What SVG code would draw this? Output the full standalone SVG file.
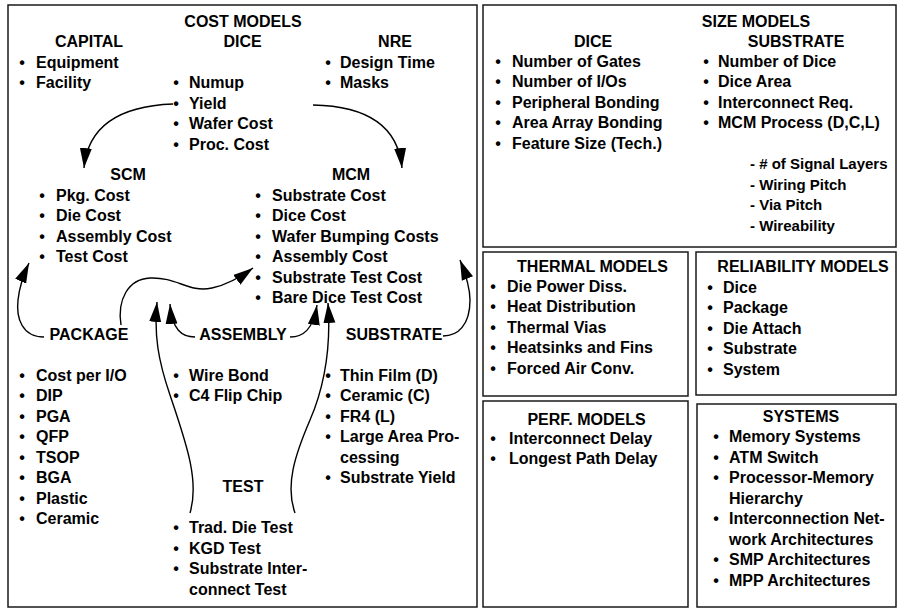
<svg xmlns="http://www.w3.org/2000/svg" width="899" height="610" viewBox="0 0 899 610">
  <style>
    text { font-family: "Liberation Sans", Arial, sans-serif; font-weight: bold; font-size: 16px; fill: #000; }
    .h { text-anchor: middle; }
    .b { text-anchor: middle; }
    .sub { font-size: 15px; }
    .box { fill: none; stroke: #1a1a1a; stroke-width: 1.5; }
    .conn { fill: none; stroke: #000; stroke-width: 1.4; marker-end: url(#ah); }
  </style>
  <defs>
    <marker id="ah" markerUnits="userSpaceOnUse" markerWidth="21" markerHeight="13" viewBox="0 0 21 13" refX="20" refY="6.5" orient="auto">
      <path d="M0,0.5 L20,6.5 L0,12.5 Z" fill="#000"/>
    </marker>
  </defs>
  <rect width="899" height="610" fill="#fff"/>

  <!-- Cost models panel -->
  <g id="cost-models">
    <rect class="box" x="8" y="5" width="469" height="602"/>
    <text class="h" x="243" y="26.7">COST MODELS</text>
  </g>
  <g id="capital">
    <text class="h" x="89" y="47.3">CAPITAL</text>
    <text class="b" x="22" y="67.7">•</text><text x="36" y="67.7">Equipment</text>
    <text class="b" x="22" y="88.2">•</text><text x="36" y="88.2">Facility</text>
  </g>
  <g id="dice">
    <text class="h" x="242.5" y="47.3">DICE</text>
    <text class="b" x="176" y="88.2">•</text><text x="189" y="88.2">Numup</text>
    <text class="b" x="176" y="108.7">•</text><text x="189" y="108.7">Yield</text>
    <text class="b" x="176" y="129.2">•</text><text x="189" y="129.2">Wafer Cost</text>
    <text class="b" x="176" y="149.7">•</text><text x="189" y="149.7">Proc. Cost</text>
  </g>
  <g id="nre">
    <text class="h" x="395" y="47.3">NRE</text>
    <text class="b" x="328" y="67.7">•</text><text x="340" y="67.7">Design Time</text>
    <text class="b" x="328" y="88.2">•</text><text x="340" y="88.2">Masks</text>
  </g>
  <g id="scm">
    <text class="h" x="128" y="180">SCM</text>
    <text class="b" x="42" y="200.5">•</text><text x="56" y="200.5">Pkg. Cost</text>
    <text class="b" x="42" y="221">•</text><text x="56" y="221">Die Cost</text>
    <text class="b" x="42" y="241.5">•</text><text x="56" y="241.5">Assembly Cost</text>
    <text class="b" x="42" y="262">•</text><text x="56" y="262">Test Cost</text>
  </g>
  <g id="mcm">
    <text class="h" x="351" y="180">MCM</text>
    <text class="b" x="258" y="200.5">•</text><text x="272" y="200.5">Substrate Cost</text>
    <text class="b" x="258" y="221">•</text><text x="272" y="221">Dice Cost</text>
    <text class="b" x="258" y="241.5">•</text><text x="272" y="241.5">Wafer Bumping Costs</text>
    <text class="b" x="258" y="262">•</text><text x="272" y="262">Assembly Cost</text>
    <text class="b" x="258" y="282.5">•</text><text x="272" y="282.5">Substrate Test Cost</text>
    <text class="b" x="258" y="303">•</text><text x="272" y="303">Bare Dice Test Cost</text>
  </g>
  <g id="package">
    <text class="h" x="89" y="340">PACKAGE</text>
    <text class="b" x="22" y="380.7">•</text><text x="36" y="380.7">Cost per I/O</text>
    <text class="b" x="22" y="401.2">•</text><text x="36" y="401.2">DIP</text>
    <text class="b" x="22" y="421.7">•</text><text x="36" y="421.7">PGA</text>
    <text class="b" x="22" y="442.2">•</text><text x="36" y="442.2">QFP</text>
    <text class="b" x="22" y="462.7">•</text><text x="36" y="462.7">TSOP</text>
    <text class="b" x="22" y="483.2">•</text><text x="36" y="483.2">BGA</text>
    <text class="b" x="22" y="503.7">•</text><text x="36" y="503.7">Plastic</text>
    <text class="b" x="22" y="524.2">•</text><text x="36" y="524.2">Ceramic</text>
  </g>
  <g id="assembly">
    <text class="h" x="243" y="340">ASSEMBLY</text>
    <text class="b" x="176" y="380.7">•</text><text x="189" y="380.7">Wire Bond</text>
    <text class="b" x="176" y="401.2">•</text><text x="189" y="401.2">C4 Flip Chip</text>
  </g>
  <g id="substrate">
    <text class="h" x="394" y="340">SUBSTRATE</text>
    <text class="b" x="328" y="380.7">•</text><text x="340" y="380.7">Thin Film (D)</text>
    <text class="b" x="328" y="401.2">•</text><text x="340" y="401.2">Ceramic (C)</text>
    <text class="b" x="328" y="421.7">•</text><text x="340" y="421.7">FR4 (L)</text>
    <text class="b" x="328" y="442.2">•</text><text x="340" y="442.2">Large Area Pro-</text>
    <text x="340" y="462.7">cessing</text>
    <text class="b" x="328" y="483.2">•</text><text x="340" y="483.2">Substrate Yield</text>
  </g>
  <g id="test">
    <text class="h" x="243" y="492">TEST</text>
    <text class="b" x="176" y="533.3">•</text><text x="189" y="533.3">Trad. Die Test</text>
    <text class="b" x="176" y="553.8">•</text><text x="189" y="553.8">KGD Test</text>
    <text class="b" x="176" y="574.3">•</text><text x="189" y="574.3">Substrate Inter-</text>
    <text x="189" y="594.8">connect Test</text>
  </g>

  <!-- Size models panel -->
  <g id="size-models">
    <rect class="box" x="483" y="5" width="413" height="242"/>
    <text class="h" x="756" y="26.7">SIZE MODELS</text>
    <text class="h" x="593" y="46.7">DICE</text>
    <text class="b" x="498" y="66.7">•</text><text x="512" y="66.7">Number of Gates</text>
    <text class="b" x="498" y="87.2">•</text><text x="512" y="87.2">Number of I/Os</text>
    <text class="b" x="498" y="107.7">•</text><text x="512" y="107.7">Peripheral Bonding</text>
    <text class="b" x="498" y="128.2">•</text><text x="512" y="128.2">Area Array Bonding</text>
    <text class="b" x="498" y="148.7">•</text><text x="512" y="148.7">Feature Size (Tech.)</text>
    <text class="h" x="796" y="46.7">SUBSTRATE</text>
    <text class="b" x="706" y="66.7">•</text><text x="718" y="66.7">Number of Dice</text>
    <text class="b" x="706" y="87.2">•</text><text x="718" y="87.2">Dice Area</text>
    <text class="b" x="706" y="107.7">•</text><text x="718" y="107.7">Interconnect Req.</text>
    <text class="b" x="706" y="128.2">•</text><text x="718" y="128.2">MCM Process (D,C,L)</text>
    <text class="sub" x="750" y="169.2">- # of Signal Layers</text>
    <text class="sub" x="750" y="189.7">- Wiring Pitch</text>
    <text class="sub" x="750" y="210.2">- Via Pitch</text>
    <text class="sub" x="750" y="230.7">- Wireability</text>
  </g>

  <!-- Thermal models panel -->
  <g id="thermal-models">
    <rect class="box" x="483" y="252" width="205" height="144"/>
    <text class="h" x="592.5" y="272.3">THERMAL MODELS</text>
    <text class="b" x="493" y="291.7">•</text><text x="507" y="291.7">Die Power Diss.</text>
    <text class="b" x="493" y="312.2">•</text><text x="507" y="312.2">Heat Distribution</text>
    <text class="b" x="493" y="332.7">•</text><text x="507" y="332.7">Thermal Vias</text>
    <text class="b" x="493" y="353.2">•</text><text x="507" y="353.2">Heatsinks and Fins</text>
    <text class="b" x="493" y="373.7">•</text><text x="507" y="373.7">Forced Air Conv.</text>
  </g>

  <!-- Reliability models panel -->
  <g id="reliability-models">
    <rect class="box" x="696" y="252" width="200" height="143"/>
    <text class="h" x="803" y="272">RELIABILITY MODELS</text>
    <text class="b" x="710" y="292.7">•</text><text x="723" y="292.7">Dice</text>
    <text class="b" x="710" y="313.2">•</text><text x="723" y="313.2">Package</text>
    <text class="b" x="710" y="333.7">•</text><text x="723" y="333.7">Die Attach</text>
    <text class="b" x="710" y="354.2">•</text><text x="723" y="354.2">Substrate</text>
    <text class="b" x="710" y="374.7">•</text><text x="723" y="374.7">System</text>
  </g>

  <!-- Performance models panel -->
  <g id="perf-models">
    <rect class="box" x="483" y="401" width="205" height="206"/>
    <text class="h" x="586.5" y="425">PERF. MODELS</text>
    <text class="b" x="493" y="443.5">•</text><text x="509" y="443.5">Interconnect Delay</text>
    <text class="b" x="493" y="464">•</text><text x="509" y="464">Longest Path Delay</text>
  </g>

  <!-- Systems panel -->
  <g id="systems">
    <rect class="box" x="697" y="404" width="199" height="203"/>
    <text class="h" x="801" y="421.7">SYSTEMS</text>
    <text class="b" x="716" y="442.3">•</text><text x="729" y="442.3">Memory Systems</text>
    <text class="b" x="716" y="462.8">•</text><text x="729" y="462.8">ATM Switch</text>
    <text class="b" x="716" y="483.3">•</text><text x="729" y="483.3">Processor-Memory</text>
    <text x="729" y="503.8">Hierarchy</text>
    <text class="b" x="716" y="524.3">•</text><text x="729" y="524.3">Interconnection Net-</text>
    <text x="729" y="544.8">work Architectures</text>
    <text class="b" x="716" y="565.3">•</text><text x="729" y="565.3">SMP Architectures</text>
    <text class="b" x="716" y="585.8">•</text><text x="729" y="585.8">MPP Architectures</text>
  </g>

  <!-- Curved connectors between the cost model groups -->
  <g id="connectors">
    <path class="conn" d="M173,104 C120,106 88,125 84,168"/>
    <path class="conn" d="M313,105 C366,106 398,125 402,168"/>
    <path class="conn" d="M44,337 C22,337 16,318 18,300 C19,290 23,276 29,263"/>
    <path class="conn" d="M121,325 C117,300 128,279 150,278 C178,277 188,293 212,288 C226,285 238,279 253,268"/>
    <path class="conn" d="M190,513 C200,480 185,440 170,395 C158,360 154,335 157,302"/>
    <path class="conn" d="M195,337 C182,337 172,330 170,304"/>
    <path class="conn" d="M290,337 C303,337 313,330 317,305"/>
    <path class="conn" d="M295,513 C285,485 295,455 310,420 C325,385 331,345 328,303"/>
    <path class="conn" d="M443,336 C458,336 470,325 470,300 C470,290 466,275 460,260"/>
  </g>
</svg>
